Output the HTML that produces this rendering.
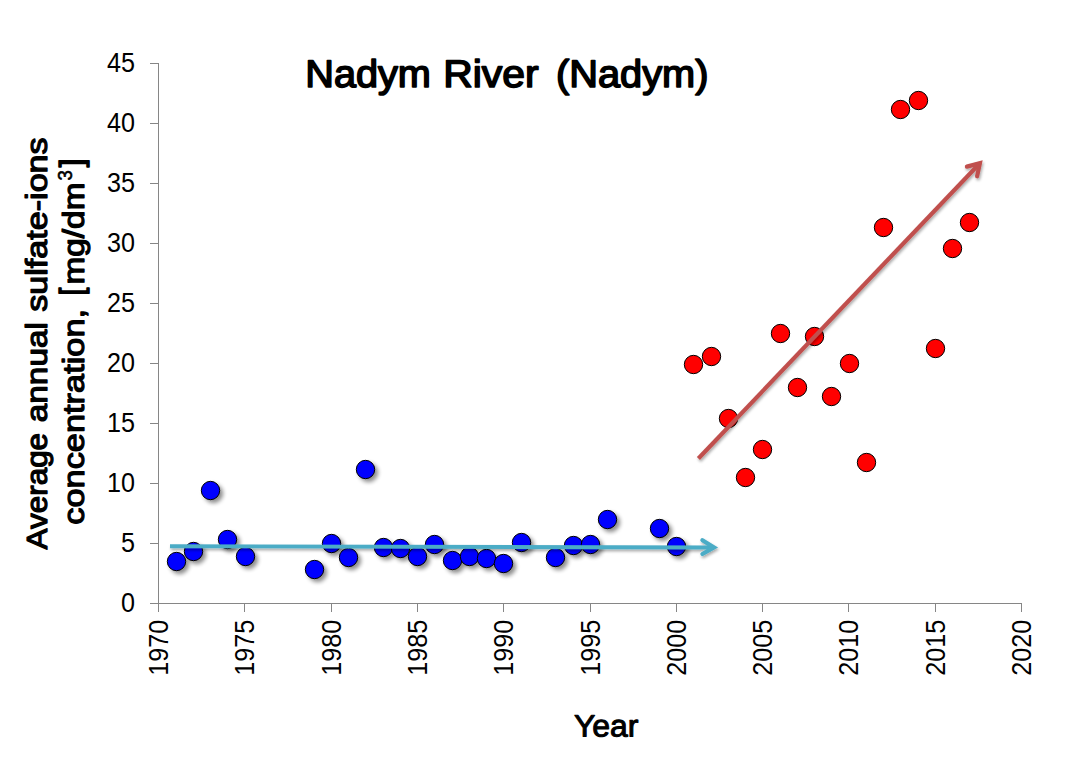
<!DOCTYPE html>
<html lang="en">
<head>
<meta charset="utf-8">
<title>Nadym River (Nadym)</title>
<style>
html,body{margin:0;padding:0;background:#fff;}
body{width:1082px;height:768px;overflow:hidden;}
svg{display:block;}
text{font-family:"Liberation Sans",sans-serif;fill:#000;}
.hd text{stroke:#000;stroke-linejoin:round;}
.tick{font-size:27.8px;}
.ax{stroke:#868686;stroke-width:1;fill:none;shape-rendering:crispEdges;}
.bm{fill:#0000ff;stroke:#000;stroke-width:1;}
.rm{fill:#ff0000;stroke:#000;stroke-width:1;}
</style>
</head>
<body>
<svg width="1082" height="768" viewBox="0 0 1082 768">
<defs>
<filter id="sh" x="-40%" y="-40%" width="200%" height="200%">
<feGaussianBlur in="SourceAlpha" stdDeviation="2"/>
<feOffset dx="2.6" dy="2.6" result="o"/>
<feComponentTransfer><feFuncA type="linear" slope="0.45"/></feComponentTransfer>
<feMerge><feMergeNode/><feMergeNode in="SourceGraphic"/></feMerge>
</filter>
<filter id="shl" x="-5%" y="-300%" width="110%" height="700%" filterUnits="objectBoundingBox">
<feGaussianBlur in="SourceAlpha" stdDeviation="1.5"/>
<feOffset dx="0.9" dy="1.5" result="o"/>
<feComponentTransfer><feFuncA type="linear" slope="0.35"/></feComponentTransfer>
<feMerge><feMergeNode/><feMergeNode in="SourceGraphic"/></feMerge>
</filter>
</defs>
<rect width="1082" height="768" fill="#ffffff"/>

<g class="ax">
<line x1="158.5" y1="63" x2="158.5" y2="604"/>
<line x1="150" y1="603.5" x2="1022" y2="603.5"/>
<line x1="150" y1="63.5" x2="158" y2="63.5"/>
<line x1="150" y1="123.5" x2="158" y2="123.5"/>
<line x1="150" y1="183.5" x2="158" y2="183.5"/>
<line x1="150" y1="243.5" x2="158" y2="243.5"/>
<line x1="150" y1="303.5" x2="158" y2="303.5"/>
<line x1="150" y1="363.5" x2="158" y2="363.5"/>
<line x1="150" y1="423.5" x2="158" y2="423.5"/>
<line x1="150" y1="483.5" x2="158" y2="483.5"/>
<line x1="150" y1="543.5" x2="158" y2="543.5"/>
<line x1="158.5" y1="604" x2="158.5" y2="612"/>
<line x1="244.5" y1="604" x2="244.5" y2="612"/>
<line x1="331.5" y1="604" x2="331.5" y2="612"/>
<line x1="417.5" y1="604" x2="417.5" y2="612"/>
<line x1="503.5" y1="604" x2="503.5" y2="612"/>
<line x1="590.5" y1="604" x2="590.5" y2="612"/>
<line x1="676.5" y1="604" x2="676.5" y2="612"/>
<line x1="762.5" y1="604" x2="762.5" y2="612"/>
<line x1="848.5" y1="604" x2="848.5" y2="612"/>
<line x1="935.5" y1="604" x2="935.5" y2="612"/>
<line x1="1021.5" y1="604" x2="1021.5" y2="612"/>
</g>
<g class="tick" text-anchor="end" style="font-size:26.9px">
<text x="134.9" y="72.0" textLength="28" lengthAdjust="spacingAndGlyphs">45</text>
<text x="134.9" y="132.0" textLength="28" lengthAdjust="spacingAndGlyphs">40</text>
<text x="134.9" y="192.0" textLength="28" lengthAdjust="spacingAndGlyphs">35</text>
<text x="134.9" y="252.0" textLength="28" lengthAdjust="spacingAndGlyphs">30</text>
<text x="134.9" y="312.0" textLength="28" lengthAdjust="spacingAndGlyphs">25</text>
<text x="134.9" y="372.0" textLength="28" lengthAdjust="spacingAndGlyphs">20</text>
<text x="134.9" y="432.0" textLength="28" lengthAdjust="spacingAndGlyphs">15</text>
<text x="134.9" y="492.0" textLength="28" lengthAdjust="spacingAndGlyphs">10</text>
<text x="134.9" y="552.0" textLength="14" lengthAdjust="spacingAndGlyphs">5</text>
<text x="134.9" y="612.0" textLength="14" lengthAdjust="spacingAndGlyphs">0</text>
</g>
<g class="tick" text-anchor="end">
<text transform="translate(168.0,619.8) rotate(-90)" textLength="56" lengthAdjust="spacingAndGlyphs">1970</text>
<text transform="translate(254.3,619.8) rotate(-90)" textLength="56" lengthAdjust="spacingAndGlyphs">1975</text>
<text transform="translate(340.6,619.8) rotate(-90)" textLength="56" lengthAdjust="spacingAndGlyphs">1980</text>
<text transform="translate(426.9,619.8) rotate(-90)" textLength="56" lengthAdjust="spacingAndGlyphs">1985</text>
<text transform="translate(513.2,619.8) rotate(-90)" textLength="56" lengthAdjust="spacingAndGlyphs">1990</text>
<text transform="translate(599.5,619.8) rotate(-90)" textLength="56" lengthAdjust="spacingAndGlyphs">1995</text>
<text transform="translate(685.8,619.8) rotate(-90)" textLength="56" lengthAdjust="spacingAndGlyphs">2000</text>
<text transform="translate(772.1,619.8) rotate(-90)" textLength="56" lengthAdjust="spacingAndGlyphs">2005</text>
<text transform="translate(858.4,619.8) rotate(-90)" textLength="56" lengthAdjust="spacingAndGlyphs">2010</text>
<text transform="translate(944.7,619.8) rotate(-90)" textLength="56" lengthAdjust="spacingAndGlyphs">2015</text>
<text transform="translate(1031.0,619.8) rotate(-90)" textLength="56" lengthAdjust="spacingAndGlyphs">2020</text>
</g>
<g class="hd">
<text id="tN" font-size="38.5" stroke-width="1.6" textLength="125.6" lengthAdjust="spacingAndGlyphs" transform="translate(305.28,86.90) rotate(0.03)">Nadym</text>
<text id="tR" font-size="38.5" stroke-width="1.6" textLength="95.3" lengthAdjust="spacingAndGlyphs" transform="translate(443.20,86.90) rotate(0.03)">River</text>
<text id="tP" font-size="38.5" stroke-width="1.6" textLength="152.3" lengthAdjust="spacingAndGlyphs" transform="translate(556.10,86.90) rotate(0.03)">(Nadym)</text>
<text id="xY" font-size="31.0" stroke-width="1.0" textLength="64.6" lengthAdjust="spacingAndGlyphs" transform="translate(573.88,736.50) rotate(0.03)">Year</text>
<text id="y1a" font-size="29.3" stroke-width="1.2" textLength="116.5" lengthAdjust="spacingAndGlyphs" transform="translate(46.7,549.4) rotate(-90)">Average</text>
<text id="y1b" font-size="29.3" stroke-width="1.2" textLength="100.1" lengthAdjust="spacingAndGlyphs" transform="translate(46.7,422.2) rotate(-90)">annual</text>
<text id="y1c" font-size="29.3" stroke-width="1.2" textLength="174.3" lengthAdjust="spacingAndGlyphs" transform="translate(46.7,311.7) rotate(-90)">sulfate-ions</text>
<text id="y2a" font-size="29.3" stroke-width="1.2" textLength="215.8" lengthAdjust="spacingAndGlyphs" transform="translate(84.2,524.7) rotate(-90)">concentration,</text>
<text id="y2o" font-size="30.6" stroke-width="1.6" textLength="7.6" lengthAdjust="spacingAndGlyphs" transform="translate(82.2,295.2) rotate(-90)">[</text>
<text id="y2b" font-size="29.3" stroke-width="1.2" textLength="101.8" lengthAdjust="spacingAndGlyphs" transform="translate(84.2,284.4) rotate(-90)">mg/dm</text>
<text id="y2c" font-size="19.5" stroke-width="0.6" textLength="10.3" lengthAdjust="spacingAndGlyphs" transform="translate(71.9,180.6) rotate(-90)">3</text>
<text id="y2d" font-size="30.6" stroke-width="1.6" textLength="8.7" lengthAdjust="spacingAndGlyphs" transform="translate(82.2,167.3) rotate(-90)">]</text>
</g>
<g class="bm" filter="url(#sh)">
<circle cx="176.5" cy="561.5" r="9.2"/>
<circle cx="193.5" cy="551.5" r="9.2"/>
<circle cx="210.5" cy="490.5" r="9.2"/>
<circle cx="227.5" cy="539.5" r="9.2"/>
<circle cx="245.5" cy="556.5" r="9.2"/>
<circle cx="314.5" cy="569.5" r="9.2"/>
<circle cx="331.5" cy="543.5" r="9.2"/>
<circle cx="348.5" cy="557.5" r="9.2"/>
<circle cx="365.5" cy="469.5" r="9.2"/>
<circle cx="383.5" cy="547.5" r="9.2"/>
<circle cx="400.5" cy="548.5" r="9.2"/>
<circle cx="417.5" cy="556.5" r="9.2"/>
<circle cx="434.5" cy="544.5" r="9.2"/>
<circle cx="452.5" cy="560.5" r="9.2"/>
<circle cx="469.5" cy="556.5" r="9.2"/>
<circle cx="486.5" cy="558.5" r="9.2"/>
<circle cx="503.5" cy="563.5" r="9.2"/>
<circle cx="521.5" cy="542.5" r="9.2"/>
<circle cx="555.5" cy="557.5" r="9.2"/>
<circle cx="573.5" cy="545.5" r="9.2"/>
<circle cx="590.5" cy="544.5" r="9.2"/>
<circle cx="607.5" cy="519.5" r="9.2"/>
<circle cx="659.5" cy="528.5" r="9.2"/>
<circle cx="676.5" cy="546.5" r="9.2"/>
</g>
<g class="rm">
<circle cx="693.5" cy="364.5" r="9.2"/>
<circle cx="711.5" cy="356.5" r="9.2"/>
<circle cx="728.5" cy="418.5" r="9.2"/>
<circle cx="745.5" cy="477.5" r="9.2"/>
<circle cx="762.5" cy="449.5" r="9.2"/>
<circle cx="780.5" cy="333.5" r="9.2"/>
<circle cx="797.5" cy="387.5" r="9.2"/>
<circle cx="814.5" cy="336.5" r="9.2"/>
<circle cx="831.5" cy="396.5" r="9.2"/>
<circle cx="849.5" cy="363.5" r="9.2"/>
<circle cx="866.5" cy="462.5" r="9.2"/>
<circle cx="883.5" cy="227.5" r="9.2"/>
<circle cx="900.5" cy="109.5" r="9.2"/>
<circle cx="918.5" cy="100.5" r="9.2"/>
<circle cx="935.5" cy="348.5" r="9.2"/>
<circle cx="952.5" cy="248.5" r="9.2"/>
<circle cx="969.5" cy="222.5" r="9.2"/>
</g>
<g fill="none" stroke="#4bacc6" stroke-width="4.2" filter="url(#shl)">
<path d="M170,546.2 L714,547.45" stroke-width="3.9"/>
<path d="M702.4,540.2 L714,547.4 L702.4,554.0" stroke-linecap="round" stroke-linejoin="miter"/>
</g>
<g fill="none" stroke="#c0504d" stroke-width="4.2" filter="url(#shl)">
<path d="M698.4,458.5 L979.9,163.2"/>
<path d="M966.9,166.6 L979.9,163.2 L977.1,176.25" stroke-linecap="round" stroke-linejoin="miter"/>
</g>
</svg>
</body>
</html>
